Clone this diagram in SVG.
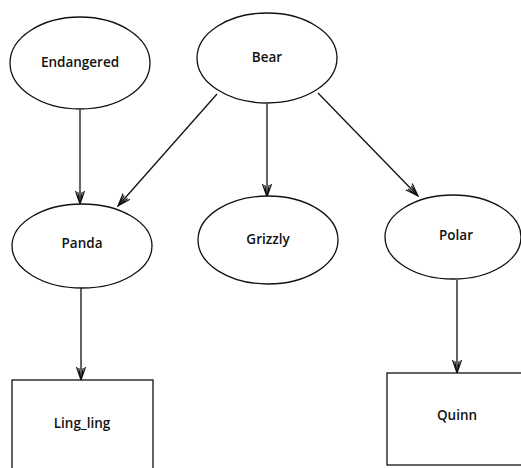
<svg xmlns="http://www.w3.org/2000/svg" width="521" height="468" viewBox="0 0 521 468">
  <defs>
    <style>
      .node { fill: #fff; stroke: #111; stroke-width: 1.3; }
      .label { font-family: "Open Sans", "Liberation Sans", sans-serif; font-size: 13.5px; font-weight: 600; fill: #111; text-anchor: middle; dominant-baseline: central; }
      .edge { stroke: #111; stroke-width: 1.3; fill: none; marker-end: url(#vee); }
    </style>
    <!-- narrow open vee with an inner stroke -->
    <marker id="vee" viewBox="0 0 14 12" refX="13" refY="6" markerWidth="14" markerHeight="12" markerUnits="userSpaceOnUse" orient="auto">
      <path d="M0,1.5 L13,6 L0,10.5 M1,3.8 L13,6 L1,8.2" fill="none" stroke="#111" stroke-width="1.2"/>
    </marker>
  </defs>
  <rect width="521" height="468" fill="#fff"/>

  <g id="edges">
    <line class="edge" x1="80" y1="110" x2="80" y2="204"/>
    <line class="edge" x1="217" y1="94" x2="118" y2="206"/>
    <line class="edge" x1="267" y1="104" x2="267" y2="197"/>
    <line class="edge" x1="318" y1="93" x2="418" y2="196"/>
    <line class="edge" x1="81" y1="288" x2="81" y2="380"/>
    <line class="edge" x1="457" y1="280" x2="457" y2="373"/>
  </g>

  <g id="endangered">
    <ellipse class="node" cx="80" cy="63" rx="70" ry="46"/>
    <text class="label" x="80" y="62">Endangered</text>
  </g>
  <g id="bear">
    <ellipse class="node" cx="267" cy="58" rx="70" ry="45"/>
    <text class="label" x="267" y="57">Bear</text>
  </g>
  <g id="panda">
    <ellipse class="node" cx="82" cy="246" rx="70" ry="42"/>
    <text class="label" x="82" y="243">Panda</text>
  </g>
  <g id="grizzly">
    <ellipse class="node" cx="268" cy="240" rx="70" ry="44"/>
    <text class="label" x="268" y="239">Grizzly</text>
  </g>
  <g id="polar">
    <ellipse class="node" cx="453" cy="237" rx="68" ry="42"/>
    <text class="label" x="456" y="235">Polar</text>
  </g>
  <g id="ling_ling">
    <rect class="node" x="12" y="380" width="141" height="100"/>
    <text class="label" x="82" y="423">Ling_ling</text>
  </g>
  <g id="quinn">
    <rect class="node" x="387" y="373" width="150" height="92"/>
    <text class="label" x="457" y="415">Quinn</text>
  </g>
</svg>
